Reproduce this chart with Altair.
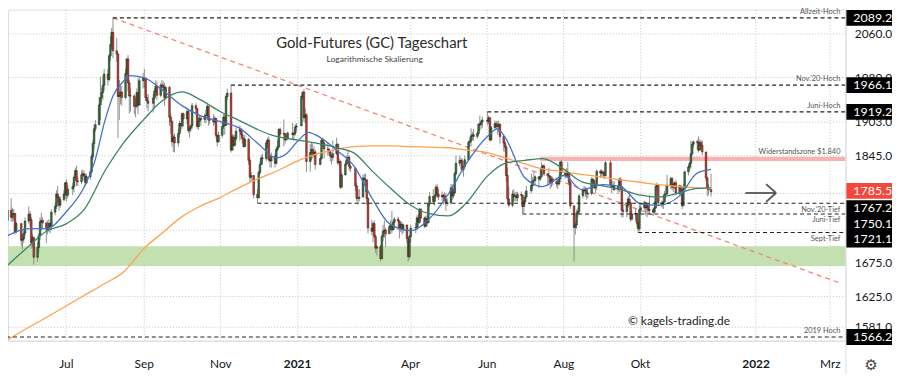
import altair as alt
import pandas as pd

# ---------------- data ----------------
week_start = "2020-05-11"   # Monday of the first row; each row = Mon..Fri, None = no trading
first_open = 1735

close_rows = [
    [None, None, None, 1740, 1756],
    [1745, 1750, 1751, 1722, 1735],
    [None, 1709, 1711, 1720, 1739],
    [1750, 1741, 1705, 1713, 1683],
    [1698, 1716, 1738, 1740, 1736],
    [1726, 1727, 1735, 1731, 1753],
    [1762, 1782, 1777, 1764, 1773],
    [1782, 1800, 1780, 1790, None],
    [1794, 1809, 1820, 1803, 1802],
    [1813, 1815, 1811, 1800, 1810],
    [1818, 1843, 1865, 1890, 1897],
    [1931, 1944, 1953, 1966, 1986],
    [1976, 2019, 2039, 2062, 2028],
    [2022, 1946, 1948, 1954, 1944],
    [1987, 2013, 1970, 1947, 1947],
    [1929, 1929, 1953, 1931, 1974],
    [1978, 1978, 1944, 1938, 1934],
    [None, 1943, 1955, 1964, 1948],
    [1966, 1966, 1962, 1944, 1962],
    [1910, 1902, 1868, 1876, 1866],
    [1882, 1899, 1895, 1916, 1907],
    [1920, 1887, 1891, 1895, 1930],
    [1925, 1894, 1903, 1908, 1906],
    [1912, 1913, 1929, 1905, 1905],
    [1902, 1908, 1879, 1868, 1879],
    [1894, 1910, 1896, 1946, 1952],
    [1854, 1876, 1862, 1873, 1886],
    [1889, 1880, 1874, 1860, 1872],
    [1837, 1809, 1812, None, 1781],
    [1776, 1817, 1830, 1841, 1840],
    [1866, 1871, 1838, 1836, 1843],
    [1832, 1855, 1859, 1889, 1881],
    [1882, 1871, 1874, 1883, None],
    [1880, 1882, 1893, 1895, None],
    [1946, 1954, 1909, 1914, 1835],
    [1850, 1855, 1846, 1851, 1830],
    [None, 1840, 1871, 1866, 1856],
    [1855, 1851, 1844, 1842, 1848],
    [1864, 1833, 1835, 1793, 1813],
    [1831, 1838, 1842, 1827, 1824],
    [None, 1795, 1775, 1775, 1777],
    [1808, 1805, 1805, 1775, 1728],
    [1723, 1735, 1715, 1697, 1699],
    [1681, 1715, 1723, 1725, 1719],
    [1730, 1732, 1725, 1737, 1742],
    [1739, 1728, 1734, 1726, 1733],
    [1712, 1684, 1715, 1728, None],
    [1729, 1744, 1737, 1758, 1744],
    [1731, 1743, 1736, 1766, 1778],
    [1770, 1779, 1793, 1782, 1777],
    [1780, 1779, 1773, 1768, 1768],
    [1792, 1779, 1784, 1815, 1832],
    [1837, 1836, 1822, 1826, 1838],
    [1867, 1869, 1878, 1880, 1877],
    [1882, 1898, 1897, 1902, 1905],
    [None, 1903, 1909, 1871, 1892],
    [1899, 1895, 1894, 1898, 1877],
    [1866, 1859, 1812, 1774, 1764],
    [1782, 1778, 1779, 1776, 1781],
    [1780, 1762, 1770, 1777, 1787],
    [None, 1796, 1803, 1804, 1810],
    [1806, 1810, 1824, 1828, 1815],
    [1812, 1810, 1800, 1806, 1802],
    [1799, 1798, 1806, 1834, 1817],
    [1812, 1813, 1816, 1800, 1763],
    [1729, 1733, 1751, 1754, 1779],
    [1789, 1787, 1789, 1782, 1783],
    [1806, 1804, 1792, 1795, 1819],
    [1816, 1818, 1815, 1812, 1833],
    [None, 1796, 1794, 1794, 1789],
    [1794, 1806, 1794, 1756, 1754],
    [1764, 1774, 1768, 1742, 1750],
    [1751, 1736, 1727, 1757, 1760],
    [1768, 1760, 1763, 1756, 1757],
    [1753, 1760, 1794, 1797, 1768],
    [1765, 1769, 1782, 1782, 1796],
    [1807, 1793, 1797, 1800, 1783],
    [1795, 1788, 1763, 1792, 1818],
    [1826, 1832, 1848, 1864, 1868],
    [1867, 1854, 1867, 1862, 1851],
    [1808, 1792, 1789, None, 1785.5],
]

high_rows = [
    [None, None, None, 1745, 1765],
    [1775, 1760, 1758, 1752, 1738],
    [None, 1735, 1718, 1725, 1745],
    [1762, 1755, 1745, 1718, 1715],
    [1706, 1720, 1745, 1752, 1745],
    [1738, 1740, 1742, 1738, 1758],
    [1768, 1788, 1795, 1778, 1778],
    [1788, 1802, 1806, 1796, None],
    [1800, 1812, 1825, 1828, 1810],
    [1820, 1822, 1820, 1815, 1815],
    [1822, 1848, 1870, 1898, 1905],
    [1945, 1981, 1962, 1983, 1995],
    [1995, 2022, 2055, 2070, 2089.2],
    [2051, 2024, 1975, 1965, 1965],
    [1995, 2015, 2020, 1975, 1960],
    [1950, 1943, 1960, 1978, 1980],
    [1988, 1995, 1980, 1950, 1950],
    [None, 1950, 1960, 1975, 1972],
    [1970, 1975, 1973, 1970, 1965],
    [1965, 1915, 1905, 1880, 1882],
    [1890, 1904, 1900, 1918, 1918],
    [1925, 1922, 1895, 1897, 1935],
    [1934, 1925, 1910, 1912, 1912],
    [1916, 1923, 1935, 1928, 1913],
    [1915, 1912, 1908, 1880, 1885],
    [1900, 1915, 1916, 1950, 1960],
    [1966.1, 1881, 1880, 1880, 1892],
    [1896, 1892, 1886, 1870, 1880],
    [1875, 1842, 1818, None, 1812],
    [1790, 1820, 1835, 1846, 1848],
    [1870, 1875, 1877, 1845, 1850],
    [1848, 1860, 1870, 1891, 1892],
    [1906, 1882, 1880, 1885, None],
    [1900, 1886, 1898, 1900, None],
    [1949, 1952, 1959, 1925, 1917],
    [1864, 1867, 1865, 1860, 1855],
    [None, 1844, 1873, 1875, 1868],
    [1866, 1858, 1854, 1847, 1870],
    [1875, 1865, 1840, 1837, 1817],
    [1836, 1845, 1855, 1845, 1830],
    [None, 1825, 1800, 1789, 1790],
    [1813, 1815, 1815, 1800, 1776],
    [1741, 1738, 1740, 1718, 1702],
    [1702, 1718, 1733, 1740, 1728],
    [1733, 1740, 1755, 1740, 1745],
    [1746, 1740, 1738, 1738, 1735],
    [1725, 1712, 1717, 1733, None],
    [1736, 1748, 1750, 1760, 1758],
    [1746, 1748, 1747, 1768, 1785],
    [1790, 1781, 1797, 1798, 1790],
    [1786, 1782, 1785, 1783, 1775],
    [1798, 1798, 1790, 1818, 1845],
    [1845, 1841, 1840, 1828, 1845],
    [1870, 1875, 1891, 1885, 1890],
    [1886, 1900, 1913, 1906, 1911],
    [None, 1919.2, 1913, 1910, 1895],
    [1904, 1904, 1903, 1904, 1899],
    [1880, 1870, 1862, 1825, 1794],
    [1788, 1790, 1785, 1786, 1785],
    [1786, 1781, 1772, 1785, 1795],
    [None, 1815, 1809, 1818, 1812],
    [1810, 1822, 1834, 1830, 1830],
    [1816, 1825, 1813, 1811, 1810],
    [1808, 1806, 1812, 1836, 1838],
    [1818, 1824, 1834, 1814, 1805],
    [1763, 1737, 1757, 1760, 1782],
    [1791, 1795, 1794, 1790, 1785],
    [1809, 1808, 1804, 1798, 1822],
    [1822, 1822, 1820, 1820, 1836],
    [None, 1837, 1804, 1803, 1802],
    [1797, 1808, 1809, 1795, 1769],
    [1768, 1779, 1787, 1770, 1755],
    [1760, 1752, 1741, 1765, 1766],
    [1771, 1770, 1765, 1765, 1780],
    [1760, 1770, 1798, 1800, 1797],
    [1772, 1780, 1787, 1797, 1813],
    [1810, 1810, 1800, 1802, 1805],
    [1797, 1796, 1790, 1798, 1820],
    [1830, 1835, 1870, 1868, 1870],
    [1872, 1877, 1872, 1871, 1870],
    [1850, 1810, 1798, None, 1815],
]

low_rows = [
    [None, None, None, 1718, 1735],
    [1738, 1738, 1740, 1718, 1720],
    [None, 1700, 1695, 1705, 1715],
    [1735, 1730, 1696, 1698, 1672],
    [1676, 1690, 1710, 1725, 1728],
    [1705, 1718, 1722, 1720, 1725],
    [1748, 1758, 1768, 1755, 1760],
    [1770, 1775, 1770, 1775, None],
    [1780, 1785, 1805, 1795, 1795],
    [1798, 1805, 1803, 1795, 1798],
    [1805, 1815, 1838, 1855, 1885],
    [1897, 1905, 1936, 1940, 1957],
    [1965, 1973, 2010, 2030, 2015],
    [2008, 1874, 1905, 1932, 1930],
    [1942, 1984, 1955, 1916, 1920],
    [1915, 1910, 1925, 1915, 1930],
    [1960, 1962, 1938, 1925, 1920],
    [None, 1918, 1925, 1945, 1940],
    [1945, 1955, 1955, 1930, 1940],
    [1895, 1882, 1860, 1851, 1850],
    [1860, 1875, 1885, 1890, 1894],
    [1898, 1883, 1875, 1885, 1890],
    [1915, 1890, 1888, 1893, 1895],
    [1900, 1900, 1910, 1895, 1898],
    [1895, 1898, 1875, 1860, 1866],
    [1875, 1890, 1880, 1895, 1940],
    [1850, 1855, 1860, 1860, 1870],
    [1870, 1872, 1865, 1858, 1860],
    [1830, 1800, 1802, None, 1775],
    [1767.2, 1775, 1813, 1830, 1830],
    [1836, 1857, 1835, 1825, 1825],
    [1825, 1830, 1852, 1860, 1875],
    [1860, 1865, 1870, 1875, None],
    [1872, 1870, 1878, 1885, None],
    [1895, 1940, 1902, 1900, 1818],
    [1818, 1837, 1840, 1843, 1822],
    [None, 1830, 1838, 1860, 1840],
    [1845, 1845, 1835, 1830, 1836],
    [1846, 1830, 1827, 1790, 1792],
    [1812, 1828, 1835, 1820, 1818],
    [None, 1787, 1770, 1765, 1770],
    [1782, 1795, 1785, 1765, 1720],
    [1717, 1706, 1712, 1690, 1686],
    [1677, 1680, 1708, 1713, 1699],
    [1720, 1725, 1720, 1725, 1727],
    [1725, 1712, 1722, 1718, 1720],
    [1705, 1677, 1680, 1706, None],
    [1720, 1725, 1730, 1735, 1740],
    [1728, 1730, 1730, 1740, 1762],
    [1765, 1763, 1775, 1777, 1772],
    [1770, 1765, 1770, 1755, 1763],
    [1765, 1772, 1775, 1782, 1812],
    [1827, 1821, 1818, 1810, 1825],
    [1836, 1860, 1860, 1870, 1870],
    [1873, 1878, 1886, 1890, 1892],
    [None, 1896, 1898, 1868, 1870],
    [1890, 1889, 1880, 1885, 1865],
    [1852, 1851, 1802, 1768, 1761],
    [1761, 1770, 1770, 1770, 1770],
    [1772, 1750.1, 1752, 1765, 1775],
    [None, 1783, 1790, 1795, 1797],
    [1792, 1803, 1808, 1823, 1814],
    [1795, 1800, 1790, 1793, 1796],
    [1793, 1790, 1796, 1806, 1813],
    [1807, 1810, 1808, 1795, 1758],
    [1677, 1718, 1727, 1745, 1749],
    [1775, 1783, 1777, 1773, 1775],
    [1780, 1797, 1790, 1783, 1788],
    [1808, 1810, 1808, 1806, 1810],
    [None, 1793, 1783, 1788, 1787],
    [1782, 1785, 1790, 1745, 1745],
    [1745, 1760, 1764, 1738, 1740],
    [1740, 1730, 1721.1, 1723, 1750],
    [1756, 1748, 1745, 1751, 1750],
    [1748, 1752, 1758, 1788, 1764],
    [1760, 1758, 1772, 1775, 1780],
    [1790, 1788, 1785, 1790, 1780],
    [1780, 1782, 1758, 1765, 1790],
    [1812, 1820, 1823, 1845, 1858],
    [1855, 1850, 1855, 1856, 1845],
    [1803, 1778, 1780, None, 1778],
]

# moving averages (blue = 20 days, green = 50 days, orange = 200 days)
sma20_dates = ["2020-05-14", "2020-06-01", "2020-06-15", "2020-07-01", "2020-07-15", "2020-07-23",
               "2020-08-01", "2020-08-07", "2020-08-15", "2020-08-20", "2020-09-01", "2020-09-15",
               "2020-10-01", "2020-10-15", "2020-11-01", "2020-11-15", "2020-12-01", "2020-12-15",
               "2020-12-23", "2021-01-01", "2021-01-10", "2021-01-15", "2021-02-01", "2021-02-15",
               "2021-03-01", "2021-03-15", "2021-04-01", "2021-04-15", "2021-05-01", "2021-05-15",
               "2021-06-01", "2021-06-09", "2021-06-15", "2021-07-01", "2021-07-15", "2021-08-01",
               "2021-08-15", "2021-09-01", "2021-09-15", "2021-10-01", "2021-10-15", "2021-11-01",
               "2021-11-15", "2021-11-26"]
sma20 = [1715, 1727, 1727, 1754, 1793, 1832, 1907, 1947, 1972, 1983, 1979, 1958,
         1930, 1913, 1902, 1892, 1864, 1841, 1848, 1869, 1884, 1880, 1854, 1827,
         1776, 1735, 1724, 1741, 1782, 1831, 1877, 1890, 1876, 1808, 1794, 1812,
         1789, 1797, 1794, 1766, 1764, 1779, 1816, 1822]

ma_dates = ["2020-05-14", "2020-06-01", "2020-06-15", "2020-07-01", "2020-07-15", "2020-08-01",
            "2020-08-15", "2020-09-01", "2020-09-15", "2020-10-01", "2020-10-15", "2020-11-01",
            "2020-11-15", "2020-12-01", "2020-12-15", "2021-01-01", "2021-01-15", "2021-02-01",
            "2021-02-15", "2021-03-01", "2021-03-15", "2021-04-01", "2021-04-15", "2021-05-01",
            "2021-05-15", "2021-06-01", "2021-06-15", "2021-07-01", "2021-07-15", "2021-08-01",
            "2021-08-15", "2021-09-01", "2021-09-15", "2021-10-01", "2021-10-15", "2021-11-01",
            "2021-11-15", "2021-11-26"]
sma50 = [1669, 1700, 1723, 1735, 1757, 1821, 1865, 1907, 1938, 1954, 1941, 1919,
         1905, 1888, 1877, 1871, 1866, 1858, 1849, 1820, 1793, 1764, 1751, 1747,
         1767, 1811, 1832, 1837, 1840, 1822, 1802, 1795, 1789, 1780, 1777, 1784,
         1791, 1792]
sma200 = [1561, 1580, 1594, 1611, 1626, 1644, 1660, 1697, 1720, 1746, 1762, 1777,
          1792, 1807, 1819, 1836, 1847, 1855, 1860, 1861, 1861, 1860, 1859, 1858,
          1854, 1850, 1841, 1831, 1823, 1818, 1814, 1809, 1805, 1801, 1797, 1794,
          1792, 1791]

level_names = ["Allzeit-Hoch", "Nov.'20-Hoch", "Juni-Hoch", "Nov.'20-Tief", "Juni-Tief", "Sept-Tief", "2019 Hoch"]
level_values = [2089.2, 1966.1, 1919.2, 1767.2, 1750.1, 1721.1, 1566.2]
level_starts = ["2020-08-07", "2020-11-09", "2021-06-01", "2020-11-30", "2021-06-29", "2021-09-29", "2020-05-14"]
level_kinds = ["hoch", "hoch", "hoch", "tief", "tief", "tief", "hoch"]

last_price = 1785.5
support_zone = [1670, 1700]
resist_zone = [1836, 1843]
resist_start = "2021-07-13"
resist_label = "Widerstandszone $1.840"
trend_dates = ["2020-08-07T12:00:00", "2022-03-09T12:30:00"]
trend_values = [2089.2, 1644]

title_text = "Gold-Futures (GC) Tageschart"
subtitle_text = "Logarithmische Skalierung"
credit_text = "© kagels-trading.de"

y_ticks = [1581, 1625, 1675, 1725, 1784, 1845, 1903, 1980, 2060]
y_ticks_covered = [1725, 1784]     # grid lines whose labels sit under the price boxes
x_ticks = ["2020-07-01", "2020-09-01", "2020-11-01", "2021-01-01", "2021-04-01", "2021-06-01",
           "2021-08-01", "2021-10-01", "2022-01-01", "2022-03-01"]
month_names = ["Jan", "Feb", "Mrz", "Apr", "Mai", "Jun", "Jul", "Aug", "Sep", "Okt", "Nov", "Dez"]
x_domain = ["2020-05-19T21:50:00", "2022-03-09T12:30:00"]
y_domain = [1561, 2104.7]

# ---------------- build tables ----------------
def iso(s):
    return pd.Timestamp(s).strftime("%Y-%m-%dT%H:%M:%S")

def noon(s):
    return pd.Timestamp(s).strftime("%Y-%m-%dT12:00:00")

def dt(s):
    t = pd.Timestamp(s)
    return alt.DateTime(year=t.year, month=t.month, date=t.day, hours=t.hour, minutes=t.minute)

rows = []
prev = first_open
mondays = pd.date_range(week_start, periods=len(close_rows), freq="7D")
for monday, cw, hw, lw in zip(mondays, close_rows, high_rows, low_rows):
    for i in range(5):
        c = cw[i]
        if c is None:
            continue
        o = prev
        rows.append({
            "date": (monday + pd.Timedelta(days=i)).strftime("%Y-%m-%dT12:00:00"),
            "open": o, "close": c,
            "high": max(hw[i], o, c), "low": min(lw[i], o, c),
            "lo": min(o, c), "hi": max(o, c),
            "dir": "up" if c >= o else "down",
        })
        prev = c
candles = pd.DataFrame(rows)

sma20_df = pd.DataFrame({"date": [noon(d) for d in sma20_dates], "v": sma20})
sma50_df = pd.DataFrame({"date": [noon(d) for d in ma_dates], "v": sma50})
sma200_df = pd.DataFrame({"date": [noon(d) for d in ma_dates], "v": sma200})
levels = pd.DataFrame({"name": level_names, "v": level_values,
                       "start": [noon(d) for d in level_starts], "kind": level_kinds})
trend_df = pd.DataFrame({"date": [iso(d) for d in trend_dates], "v": trend_values})

# ---------------- layout ----------------
W, H = 845, 334
RA = 47    # right price axis
BA = 34    # bottom time axis
FONT = "Lato"

x_scale = alt.Scale(domain=[dt(x_domain[0]), dt(x_domain[1])], nice=False)
y_scale = alt.Scale(type="log", domain=y_domain, nice=False)

label_expr = ("month(datum.value) == 0 ? timeFormat(datum.value, '%Y') : "
              + str(month_names).replace('"', "'") + "[month(datum.value)]")
y_label_expr = "indexof(" + str(y_ticks_covered) + ", datum.value) >= 0 ? '' : datum.label"
x_axis = alt.Axis(values=[dt(d) for d in x_ticks], labelExpr=label_expr, title=None,
                  grid=True, gridDash=[1, 2], gridColor="#c4c4c4", gridWidth=1,
                  ticks=False, domain=False, labelPadding=18, labelFontSize=12,
                  labelColor="#131722", labelFont=FONT, labelFlush=False, labelOverlap=False,
                  labelFontWeight={"condition": {"test": "month(datum.value) == 0", "value": "bold"},
                                   "value": "normal"})
y_axis = alt.Axis(values=y_ticks, format=".1f", labelExpr=y_label_expr, orient="right", title=None,
                  grid=True, gridDash=[1, 2], gridColor="#c4c4c4", gridWidth=1,
                  ticks=False, domain=False, labelPadding=9, labelFontSize=12,
                  labelColor="#131722", labelFont=FONT, labelAlign="left",
                  labelBaseline="middle", labelOverlap=False, labelFlush=False)

def Xt(f):
    return alt.X(f, type="temporal", scale=x_scale, axis=x_axis, title=None)

def Yq(f):
    return alt.Y(f, type="quantitative", scale=y_scale, axis=y_axis, title=None)

one = pd.DataFrame({"a": [0]})

support = alt.Chart(pd.DataFrame({"lo": [support_zone[0]], "hi": [support_zone[1]]})).mark_rect(
    color="#c3e0b1").encode(x=alt.value(0), x2=alt.value(W), y=Yq("lo"), y2="hi")

resist = alt.Chart(pd.DataFrame({"start": [noon(resist_start)], "lo": [resist_zone[0]],
                                 "hi": [resist_zone[1]]})).mark_rect(color="#f8b2b0").encode(
    x=Xt("start"), x2=alt.value(W), y=Yq("lo"), y2="hi")

trend = alt.Chart(trend_df).mark_line(color="#f4837d", strokeDash=[5, 4], strokeWidth=1.3,
                                      clip=True).encode(x=Xt("date"), y=Yq("v"))

line200 = alt.Chart(sma200_df).mark_line(color="#ffa24c", strokeWidth=1.3, interpolate="monotone",
                                         clip=True).encode(x=Xt("date"), y=Yq("v"))
line50 = alt.Chart(sma50_df).mark_line(color="#3b8566", strokeWidth=1.3, interpolate="monotone",
                                       clip=True).encode(x=Xt("date"), y=Yq("v"))
line20 = alt.Chart(sma20_df).mark_line(color="#4472c9", strokeWidth=1.3, interpolate="monotone",
                                       clip=True).encode(x=Xt("date"), y=Yq("v"))

wicks = alt.Chart(candles).mark_rule(color="#8e8e8e", strokeWidth=1, clip=True).encode(
    x=Xt("date"), y=Yq("low"), y2="high")
bodies = alt.Chart(candles).mark_bar(size=1.7, stroke="#151515", strokeWidth=0.45, clip=True).encode(
    x=Xt("date"), y=Yq("lo"), y2="hi",
    color=alt.Color("dir:N", scale=alt.Scale(domain=["up", "down"], range=["#2e7d3a", "#d8362b"]),
                    legend=None))

level_rules = alt.Chart(levels).mark_rule(color="#222222", strokeDash=[4, 3], strokeWidth=1.1,
                                          clip=True).encode(x=Xt("start"), x2=alt.value(W), y=Yq("v"))
hoch_labels = alt.Chart(levels).transform_filter("datum.kind == 'hoch'").mark_text(
    align="right", baseline="middle", dy=-6, fontSize=7.5, color="#555555").encode(
    x=alt.value(W - 5), y=Yq("v"), text="name:N")
tief_labels = alt.Chart(levels).transform_filter("datum.kind == 'tief'").mark_text(
    align="right", baseline="middle", dy=6.5, fontSize=7.5, color="#555555").encode(
    x=alt.value(W - 5), y=Yq("v"), text="name:N")
resist_text = alt.Chart(pd.DataFrame({"v": [resist_zone[1]], "t": [resist_label]})).mark_text(
    align="right", baseline="middle", dy=-5, fontSize=7.5, color="#555555").encode(
    x=alt.value(W - 5), y=Yq("v"), text="t:N")

title = alt.Chart(pd.DataFrame({"t": [title_text]})).mark_text(
    fontSize=15, color="#2b2b2b", align="center", baseline="middle").encode(
    text="t:N", x=alt.value(367), y=alt.value(34))
subtitle = alt.Chart(pd.DataFrame({"t": [subtitle_text]})).mark_text(
    fontSize=8.5, color="#444444", align="center", baseline="middle").encode(
    text="t:N", x=alt.value(370), y=alt.value(50))
credit = alt.Chart(pd.DataFrame({"t": [credit_text]})).mark_text(
    fontSize=12, color="#222222", align="center", baseline="middle").encode(
    text="t:N", x=alt.value(677), y=alt.value(314))

arrow = [
    alt.Chart(one).mark_rule(color="#555555", strokeWidth=1.8).encode(
        x=alt.value(744), x2=alt.value(775), y=alt.value(185)),
    alt.Chart(one).mark_rule(color="#555555", strokeWidth=1.8).encode(
        x=alt.value(765), x2=alt.value(775), y=alt.value(176), y2=alt.value(185)),
    alt.Chart(one).mark_rule(color="#555555", strokeWidth=1.8).encode(
        x=alt.value(765), x2=alt.value(775), y=alt.value(194), y2=alt.value(185)),
]

sep_v = alt.Chart(one).mark_rule(color="#dcdfe6", strokeWidth=1).encode(
    x=alt.value(W + 0.5), y=alt.value(-8), y2=alt.value(H + BA))
sep_h = alt.Chart(one).mark_rule(color="#dcdfe6", strokeWidth=1).encode(
    y=alt.value(H + 0.5), x=alt.value(-8), x2=alt.value(W + RA))

# price boxes on the right axis
plain = levels[levels["kind"] == "hoch"]
plain_box = alt.Chart(plain).mark_rect(color="#000000", yOffset=-8, y2Offset=8).encode(
    x=alt.value(W + 1), x2=alt.value(W + RA), y=Yq("v"), y2="v")
plain_txt = alt.Chart(plain).mark_text(color="white", align="left", baseline="middle",
                                       fontSize=12.5).encode(
    x=alt.value(W + 8), y=Yq("v"), text=alt.Text("v:Q", format=".1f"))

tiefs = levels[levels["kind"] == "tief"]
stack_box = alt.Chart(pd.DataFrame({"top": [tiefs["v"].max()], "bot": [tiefs["v"].min()]})).mark_rect(
    color="#000000", yOffset=-3, y2Offset=15).encode(
    x=alt.value(W + 1), x2=alt.value(W + RA), y=Yq("top"), y2="bot")
stack_txt = []
for name, shift in zip(tiefs["name"], [5, 10, 7]):
    stack_txt.append(
        alt.Chart(tiefs[tiefs["name"] == name]).mark_text(
            color="white", align="left", baseline="middle", fontSize=12.5,
            dy=shift).encode(x=alt.value(W + 8), y=Yq("v"), text=alt.Text("v:Q", format=".1f")))

last_df = pd.DataFrame({"v": [last_price]})
last_box = alt.Chart(last_df).mark_rect(color="#f5473b", yOffset=-9, y2Offset=7).encode(
    x=alt.value(W + 1), x2=alt.value(W + RA), y=Yq("v"), y2="v")
last_txt = alt.Chart(last_df).mark_text(color="white", align="left", baseline="middle",
                                        fontSize=12.5, dy=-1).encode(
    x=alt.value(W + 8), y=Yq("v"), text=alt.Text("v:Q", format=".1f"))

gear = alt.Chart(pd.DataFrame({"t": ["⚙"]})).mark_text(
    fontSize=15, color="#444444", align="center", baseline="middle", font="DejaVu Sans").encode(
    text="t:N", x=alt.value(W + 26), y=alt.value(H + 25))

chart = alt.layer(
    support, resist, trend, wicks, bodies, line200, line50, line20, level_rules,
    hoch_labels, tief_labels, resist_text, title, subtitle, credit, *arrow,
    sep_v, sep_h, plain_box, plain_txt, stack_box, *stack_txt, last_box, last_txt, gear,
).properties(
    width=W, height=H,
    padding={"left": 0, "top": 0, "right": RA, "bottom": BA},
    autosize=alt.AutoSizeParams(type="none"),
).configure_view(stroke=None).configure(font=FONT)

chart.save("out.html", embed_options={"renderer": "svg", "actions": False})
